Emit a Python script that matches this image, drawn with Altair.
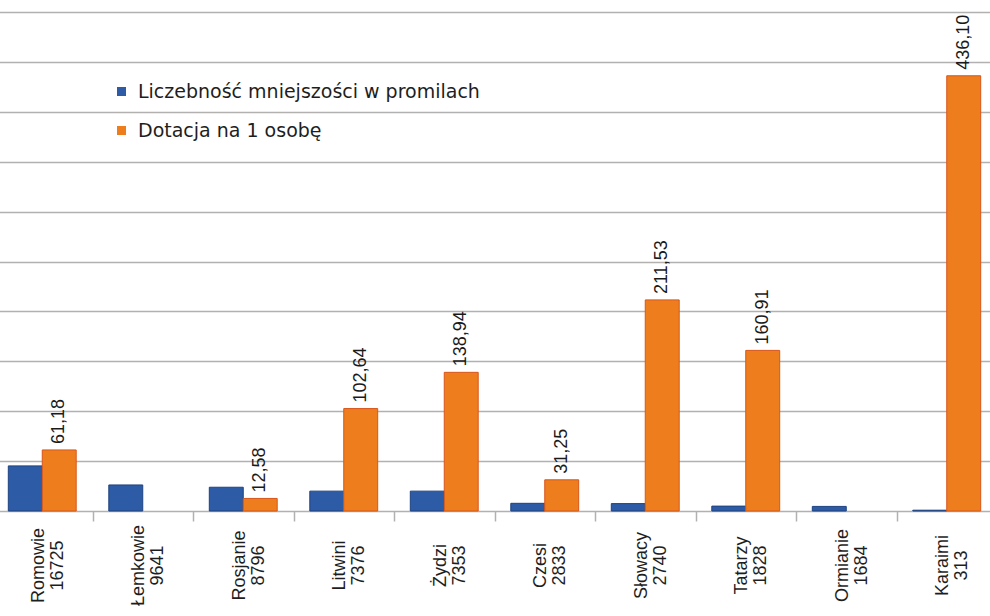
import altair as alt
import pandas as pd

# Minority groups, their census counts and the two plotted series
groups = ["Romowie", "Łemkowie", "Rosjanie", "Litwini", "Żydzi",
          "Czesi", "Słowacy", "Tatarzy", "Ormianie", "Karaimi"]
counts = [16725, 9641, 8796, 7376, 7353, 2833, 2740, 1828, 1684, 313]
share_permille = [45.2, 26.1, 23.8, 19.9, 19.9, 7.7, 7.4, 4.9, 4.6, 0.8]
grant_per_person = [61.18, None, 12.58, 102.64, 138.94, 31.25, 211.53, 160.91, None, 436.10]

series_names = ["Liczebność mniejszości w promilach", "Dotacja na 1 osobę"]
fill_colors = ["#2d5ba6", "#ee7e1d"]
edge_colors = ["#1f437f", "#d8551b"]

labels = [f"{g}\n{c}" for g, c in zip(groups, counts)]

rows = []
for lab, a, b in zip(labels, share_permille, grant_per_person):
    rows.append({"grupa": lab, "seria": series_names[0], "wartosc": a})
    rows.append({"grupa": lab, "seria": series_names[1], "wartosc": b})
df = pd.DataFrame(rows)

FONT = "Liberation Sans"
GRID = "#b3b1b0"

x_enc = alt.X(
    "grupa:N",
    sort=labels,
    scale=alt.Scale(range=[-16, 989], paddingInner=0, paddingOuter=0),
    axis=alt.Axis(
        title=None,
        domain=False,
        grid=False,
        tickBand="extent",
        tickSize=10,
        tickColor=GRID,
        tickWidth=1.5,
        labelAngle=-90,
        labelAlign="center",
        labelBaseline="middle",
        labelPadding=44,
        labelOffset=-4,
        labelFont=FONT,
        labelFontSize=18,
        labelLineHeight=19,
        labelColor="#1e1e1e",
        labelExpr="split(datum.label, '\\n')",
    ),
)
xoff_enc = alt.XOffset(
    "seria:N",
    sort=series_names,
    scale=alt.Scale(paddingOuter=0.48, paddingInner=0),
)
y_enc = alt.Y(
    "wartosc:Q",
    scale=alt.Scale(domain=[0, 500], nice=False),
    axis=alt.Axis(
        title=None,
        values=list(range(0, 501, 50)),
        labels=False,
        ticks=False,
        domain=False,
        grid=True,
        gridColor=GRID,
        gridWidth=1.6,
    ),
)

bars = alt.Chart(df).transform_filter(
    "isValid(datum.wartosc)"
).mark_bar(strokeWidth=1).encode(
    x=x_enc,
    xOffset=xoff_enc,
    y=y_enc,
    fill=alt.Fill(
        "seria:N",
        sort=series_names,
        scale=alt.Scale(domain=series_names, range=fill_colors),
        legend=alt.Legend(
            title=None,
            orient="none",
            legendX=104,
            legendY=70,
            padding=0,
            symbolType="square",
            symbolSize=81,
            symbolStrokeWidth=0,
            labelFont="DejaVu Sans",
            labelFontSize=19,
            labelColor="#1e1e1e",
            labelOffset=7,
            labelLimit=600,
            rowPadding=19,
        ),
    ),
    stroke=alt.Stroke(
        "seria:N",
        scale=alt.Scale(domain=series_names, range=edge_colors),
        legend=None,
    ),
)

value_text = alt.Chart(df).transform_filter(
    f"datum.seria === '{series_names[1]}' && isValid(datum.wartosc)"
).transform_calculate(
    etykieta="replace(format(datum.wartosc, '.2f'), '.', ',')"
).mark_text(
    angle=270,
    align="left",
    baseline="middle",
    dx=6,
    font=FONT,
    fontSize=18,
    color="#1a1a1a",
).encode(
    x=alt.X("grupa:N", sort=labels),
    xOffset=alt.XOffset("seria:N", sort=series_names),
    y="wartosc:Q",
    text="etykieta:N",
)

chart = alt.layer(bars, value_text).properties(
    width=982,
    height=499,
    autosize=alt.AutoSizeParams(type="none"),
    padding={"left": 8, "top": 12, "right": 0, "bottom": 105},
    background="white",
).configure_view(strokeWidth=0)

chart.save("out.html", embed_options={"renderer": "svg", "actions": False})
